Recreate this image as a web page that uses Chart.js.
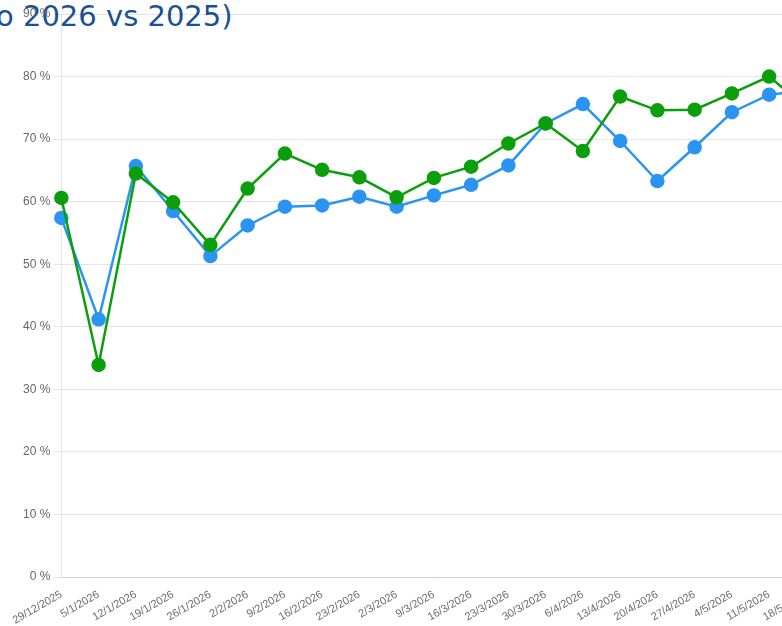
<!DOCTYPE html>
<html>
<head>
<meta charset="utf-8">
<script src="https://cdn.jsdelivr.net/npm/chart.js@4/dist/chart.umd.min.js"></script>
<style>
    html, body { margin: 0; padding: 0; background: #fff; overflow: hidden; width: 782px; height: 626px; }
    #title {
        position: absolute; left: -4px; top: -1px;
        font-family: "DejaVu Sans", sans-serif; font-size: 29px; color: #1b5194;
        white-space: nowrap;
    }
    #wrap { position: absolute; left: 5px; top: 0; width: 811px; height: 630px; }
</style>
</head>
<body>
<div id="title">o 2026 vs 2025)</div>
<div id="wrap"><canvas id="occChart"></canvas></div>
<script>
const weeks = [
    '29/12/2025', '5/1/2026', '12/1/2026', '19/1/2026', '26/1/2026', '2/2/2026', '9/2/2026',
    '16/2/2026', '23/2/2026', '2/3/2026', '9/3/2026', '16/3/2026', '23/3/2026', '30/3/2026',
    '6/4/2026', '13/4/2026', '20/4/2026', '27/4/2026', '4/5/2026', '11/5/2026', '18/5/2026'
];

// blue line
const blueValues = [57.4, 41.2, 65.7, 58.5, 51.3, 56.2, 59.2, 59.4, 60.8, 59.2, 61.0,
    62.7, 65.8, 72.5, 75.6, 69.7, 63.3, 68.7, 74.3, 77.1, 77.8];

// green line
const greenValues = [60.6, 33.9, 64.5, 59.9, 53.1, 62.1, 67.7, 65.1, 63.9, 60.7, 63.8,
    65.6, 69.3, 72.5, 68.1, 76.8, 74.6, 74.7, 77.3, 80.0, 75.0];

const yTicks = [0, 10, 20, 30, 40, 50, 60, 70, 80, 90];

const ctx = document.getElementById('occChart').getContext('2d');

new Chart(ctx, {
    type: 'line',
    data: {
        labels: weeks,
        datasets: [
            {
                label: '2026',
                data: greenValues,
                borderColor: '#0c9e0c',
                backgroundColor: '#0c9e0c',
                borderWidth: 2.5,
                pointRadius: 6,
                pointHoverRadius: 7,
                tension: 0
            },
            {
                label: '2025',
                data: blueValues,
                borderColor: '#2b94f2',
                backgroundColor: '#2b94f2',
                borderWidth: 2.5,
                pointRadius: 6,
                pointHoverRadius: 7,
                tension: 0
            }
        ]
    },
    options: {
        responsive: true,
        maintainAspectRatio: false,
        animation: false,
        layout: { padding: { top: 14, left: 15, right: 0, bottom: 0 } },
        plugins: {
            legend: { display: false },
            title: { display: false },
            tooltip: { enabled: false }
        },
        scales: {
            x: {
                grid: { display: false },
                ticks: {
                    color: '#6b6b6b',
                    font: { size: 11 },
                    padding: 3,
                    maxRotation: 30,
                    minRotation: 30,
                    autoSkip: false
                }
            },
            y: {
                min: yTicks[0],
                max: yTicks[yTicks.length - 1],
                afterBuildTicks: axis => { axis.ticks = yTicks.map(v => ({ value: v })); },
                ticks: {
                    color: '#666',
                    font: { size: 12 },
                    callback: v => v + ' %'
                }
            }
        }
    }
});
</script>
</body>
</html>
